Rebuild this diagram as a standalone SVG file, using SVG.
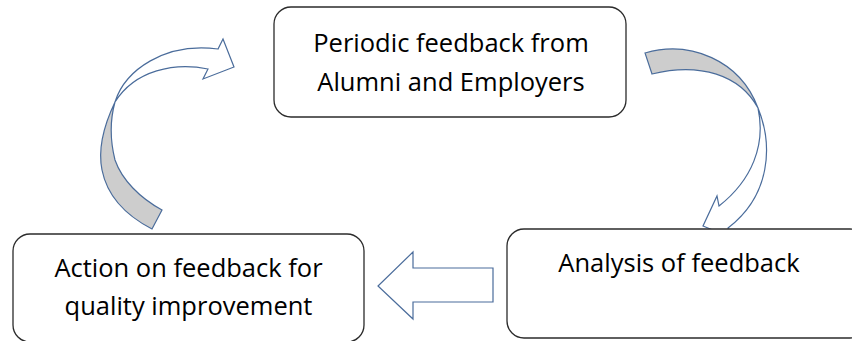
<svg xmlns="http://www.w3.org/2000/svg" width="852" height="341" viewBox="0 0 852 341">
<style>
.box{fill:#fff;stroke:#2b2b2b;stroke-width:1.3}
.lbl{font-family:"Open Sans","Liberation Sans",sans-serif;font-size:25.5px;fill:#000;text-anchor:middle}
.arw{fill:#fff;stroke:#4a6c9b;stroke-width:1.2;stroke-linejoin:miter}
.back{fill:#cdcdcd;stroke:#4a6c9b;stroke-width:1.2}
</style>
<rect width="852" height="341" fill="#fff"/>
<g id="connectors">
<g id="arrow-left-curve">
<path class="back" d="M115,102 C104,125 98,150 102,170 C107,195 125,215 152,229 L162,210 C140,198 122,180 115,160 C110,140 110,120 115,102 Z"/>
<path class="arw" d="M115,102 C125,70 165,42 218,49 L223,39 L234,67 L203,79 L208,69 C175,62 135,70 115,102 Z"/>
</g>
<g id="arrow-right-curve">
<path class="back" d="M645,53 C690,40 740,60 758,108 C740,75 700,62 652,74 Z"/>
<path class="arw" d="M758,108 C773,145 771,195 728,228 L730,237 L703,226 L717,196 L719,206 C752,180 766,145 758,108 Z"/>
</g>
<path id="arrow-straight" class="arw" d="M493,268 L413,268 L413,252 L378,286 L413,319 L413,302 L493,302 Z"/>
</g>
<g id="node-periodic">
<rect class="box" x="274" y="7" width="352" height="110" rx="17"/>
<text class="lbl" x="451" y="52">Periodic feedback from</text>
<text class="lbl" x="451" y="91">Alumni and Employers</text>
</g>
<g id="node-analysis">
<rect class="box" x="507" y="229" width="360" height="109" rx="17"/>
<text class="lbl" x="679" y="272">Analysis of feedback</text>
</g>
<g id="node-action">
<rect class="box" x="13" y="234" width="351" height="108" rx="17"/>
<text class="lbl" x="188.5" y="277">Action on feedback for</text>
<text class="lbl" x="188.5" y="315">quality improvement</text>
</g>
</svg>
